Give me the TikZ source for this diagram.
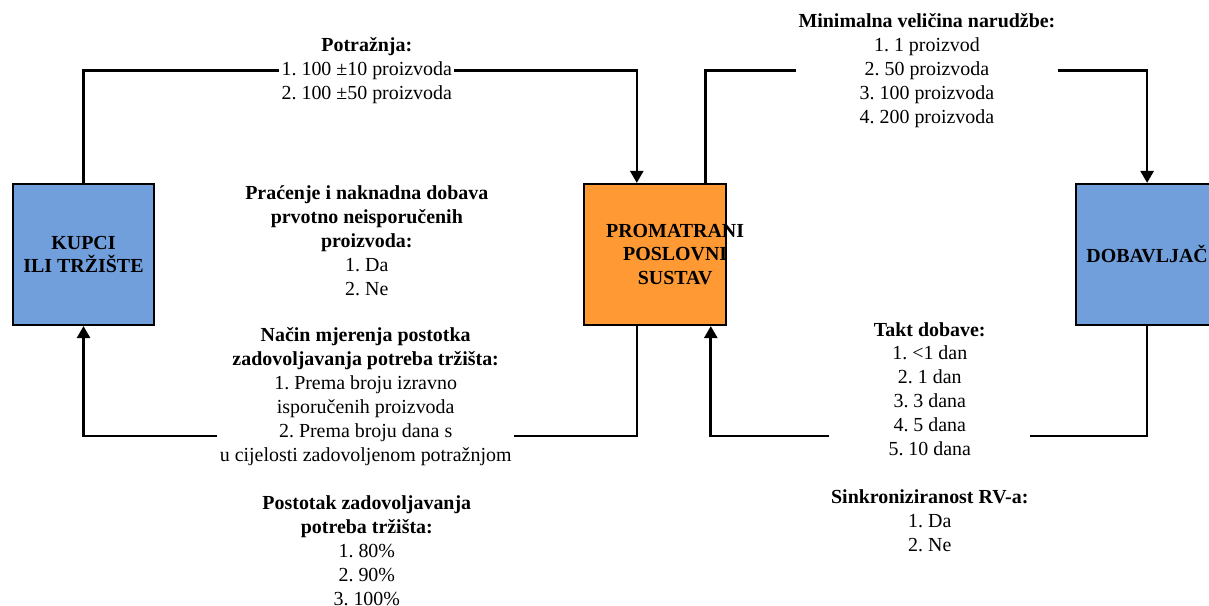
\documentclass[tikz,border=0pt]{standalone}
\usepackage{fontspec}
\setmainfont{Liberation Serif}
\frenchspacing
\usetikzlibrary{arrows.meta, positioning, calc}
\definecolor{colMarket}{RGB}{112,159,220}
\definecolor{colSystem}{RGB}{255,153,51}
\tikzset{
  base/.style   = {draw, line width=1pt, minimum width=25mm,
                   minimum height=24.9mm, font=\bfseries, align=center, inner sep=2pt},
  market/.style = {base, fill=colMarket},
  system/.style = {base, fill=colSystem},
  param/.style  = {align=center, inner sep=1pt},
  link/.style   = {line width=1.3pt},
  arr/.style    = {link, -{Triangle[length=6pt, width=6.5pt]}},
}

\begin{document}
\begin{tikzpicture}

\useasboundingbox (0,0) rectangle (213.25mm,-106.72mm);

%% ── boxes ────────────────────────────────────────────────────────────────────
\node[market] (kupci) at (14.73mm,-44.89mm) {KUPCI\\ILI TRŽIŠTE};
\node[system, right=75.5mm of kupci] (sustav) {};
\node[font=\bfseries, align=center] (sustavTxt) at ([xshift=3.5mm]sustav.center)
  {PROMATRANI\\POSLOVNI\\SUSTAV};
\node[market, right=61.4mm of sustav] (dobav) {DOBAVLJAČ};

%% ── parameters, left side ────────────────────────────────────────────────────
\node[param] (potraznja) at (64.7mm,-12.45mm)
  {\textbf{Potražnja:}\\1. 100 ±10 proizvoda\\2. 100 ±50 proizvoda};
\node[param] (pracenje) at (64.7mm,-42.42mm)
  {\textbf{Praćenje i naknadna dobava}\\\textbf{prvotno neisporučenih}\\
   \textbf{proizvoda:}\\1. Da\\2. Ne};
\node[param] (nacin) at (64.5mm,-69.94mm)
  {\textbf{Način mjerenja postotka}\\\textbf{zadovoljavanja potreba tržišta:}\\
   1. Prema broju izravno\\isporučenih proizvoda\\2. Prema broju dana s\\
   u cijelosti zadovoljenom potražnjom};
\node[param] (postotak) at (64.7mm,-97.14mm)
  {\textbf{Postotak zadovoljavanja}\\\textbf{potreba tržišta:}\\
   1. 80\%\\2. 90\%\\3. 100\%};

%% ── parameters, right side ───────────────────────────────────────────────────
\node[param] (narudzba) at (163.5mm,-12.45mm)
  {\textbf{Minimalna veličina narudžbe:}\\1. 1 proizvod\\2. 50 proizvoda\\
   3. 100 proizvoda\\4. 200 proizvoda};
\node[param, minimum width=35.3mm] (takt) at (164mm,-68.62mm)
  {\textbf{Takt dobave:}\\1. <1 dan\\2. 1 dan\\3. 3 dana\\4. 5 dana\\5. 10 dana};
\node[param] (sinkron) at (164mm,-91.8mm)
  {\textbf{Sinkroniziranost RV-a:}\\1. Da\\2. Ne};

%% ── arrows ───────────────────────────────────────────────────────────────────
\coordinate (loY) at (0,-76.9mm);

% demand
\draw[link] (kupci.north) |- (potraznja.west);
\draw[arr]  (potraznja.east) -| ([xshift=-3.26mm]sustav.north);

% orders
\draw[link] ([xshift=8.9mm]sustav.north) |- (narudzba.west);
\draw[arr]  (narudzba.east) -| (dobav.north);

% delivery
\draw[link] (dobav.south) |- (takt.east |- loY);
\draw[arr]  (takt.west |- loY) -| ([xshift=9.79mm]sustav.south);

% market service
\draw[link] ([xshift=-3.26mm]sustav.south) |- (nacin.east |- loY);
\draw[arr]  (nacin.west |- loY) -| (kupci.south);

\end{tikzpicture}
\end{document}
